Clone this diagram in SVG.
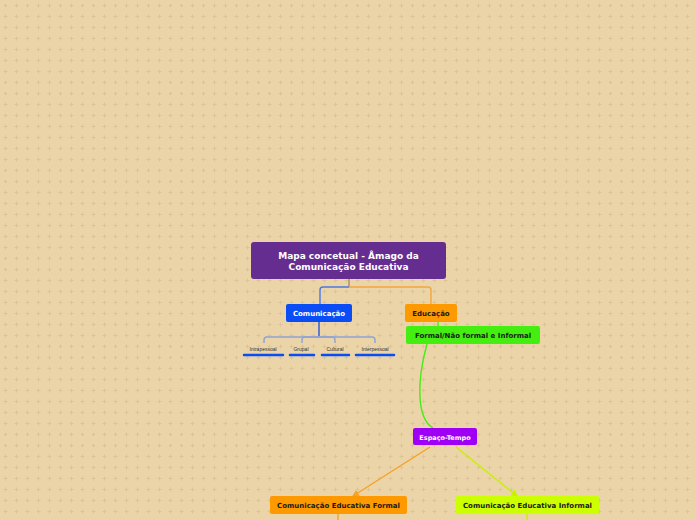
<svg xmlns="http://www.w3.org/2000/svg" width="696" height="520" viewBox="0 0 696 520">
<defs>
<pattern id="bg" width="11" height="11" patternUnits="userSpaceOnUse">
<rect width="11" height="11" fill="#ead4a8"/>
<path d="M5.5 3.5V7.5M3.5 5.5H7.5" stroke="#dcc496" stroke-width="1"/>
</pattern>
<marker id="arrO" viewBox="0 0 6 6" refX="5" refY="3" markerWidth="5" markerHeight="5" orient="auto"><path d="M0 0L6 3L0 6z" fill="#f7a128"/></marker>
<marker id="arrY" viewBox="0 0 6 6" refX="5" refY="3" markerWidth="5" markerHeight="5" orient="auto"><path d="M0 0L6 3L0 6z" fill="#c8f000"/></marker>
<style>
.t{font-family:"DejaVu Sans",Verdana,sans-serif;font-weight:bold;text-anchor:middle}
.w{fill:#ffffff}
.d{fill:#1a1a1a}
.s{font-family:"Liberation Sans",Arial,sans-serif;font-size:5px;fill:#333;text-anchor:middle}
.c{fill:none;stroke-width:1.4}
.u{stroke:#0a4cf5;stroke-width:2.5;stroke-linecap:round}
</style>
</defs>
<rect width="696" height="520" fill="url(#bg)"/>
<g id="connectors">
<path class="c" d="M349 279V287" stroke="#b58a50"/>
<path class="c" d="M349 287H323Q320 287 320 290V304" stroke="#4a78e0"/>
<path class="c" d="M349 287H428Q431 287 431 290V304" stroke="#f5a53d"/>
<path class="c" d="M319 322V337" stroke="#2456d8"/>
<path class="c" d="M319 337H267Q264 337 264 340V343" stroke="#8ea3d6"/>
<path class="c" d="M319 337H305Q302 337 302 340V343" stroke="#8ea3d6"/>
<path class="c" d="M319 337H332Q335 337 335 340V343" stroke="#8ea3d6"/>
<path class="c" d="M319 337H372Q375 337 375 340V343" stroke="#8ea3d6"/>
<path class="c" d="M438 322V326" stroke="#44ee11"/>
<path class="c" d="M427 344C417 380 416 418 433 428" stroke="#44ee11"/>
<path class="c" d="M430 447L353 496" stroke="#f7a128" marker-end="url(#arrO)"/>
<path class="c" d="M456 447L517 496" stroke="#c8f000" marker-end="url(#arrY)"/>
<path class="c" d="M338 514V520" stroke="#f7a128"/>
<path class="c" d="M527 514V520" stroke="#c8f000"/>
</g>
<g id="root">
<rect x="251" y="242" width="195" height="37" rx="3" fill="#662d91"/>
<text class="t w" x="348.5" y="259" font-size="9">Mapa concetual - Âmago da</text>
<text class="t w" x="348.5" y="270" font-size="9">Comunicação Educativa</text>
</g>
<g id="comunicacao">
<rect x="286" y="304" width="66" height="18" rx="2" fill="#0a4cf5"/>
<text class="t w" x="319" y="315.5" font-size="7">Comunicação</text>
</g>
<g id="educacao">
<rect x="405" y="304" width="52" height="18" rx="2" fill="#ff9900"/>
<text class="t d" x="431" y="315.5" font-size="7">Educação</text>
</g>
<g id="intrapessoal">
<text class="s" x="263" y="351">Intrapessoal</text>
<line class="u" x1="244" y1="355" x2="283" y2="355"/>
</g>
<g id="grupal">
<text class="s" x="301" y="351">Grupal</text>
<line class="u" x1="290" y1="355" x2="314" y2="355"/>
</g>
<g id="cultural">
<text class="s" x="335" y="351">Cultural</text>
<line class="u" x1="322" y1="355" x2="349" y2="355"/>
</g>
<g id="interpessoal">
<text class="s" x="375" y="351">Interpessoal</text>
<line class="u" x1="356" y1="355" x2="394" y2="355"/>
</g>
<g id="formal-nao-formal">
<rect x="406" y="326" width="134" height="18" rx="2" fill="#44ee11"/>
<text class="t d" x="473" y="337.5" font-size="7">Formal/Não formal e Informal</text>
</g>
<g id="espaco-tempo">
<rect x="413" y="428" width="64" height="17" rx="2" fill="#9f00f5"/>
<text class="t w" x="445" y="439.5" font-size="6.5">Espaço-Tempo</text>
</g>
<g id="ce-formal">
<rect x="270" y="496" width="137" height="18" rx="2" fill="#ff9900"/>
<text class="t d" x="338.5" y="507.5" font-size="7">Comunicação Educativa Formal</text>
</g>
<g id="ce-informal">
<rect x="456" y="496" width="143" height="18" rx="2" fill="#ccff00"/>
<text class="t d" x="527.5" y="507.5" font-size="7">Comunicação Educativa Informal</text>
</g>
</svg>
